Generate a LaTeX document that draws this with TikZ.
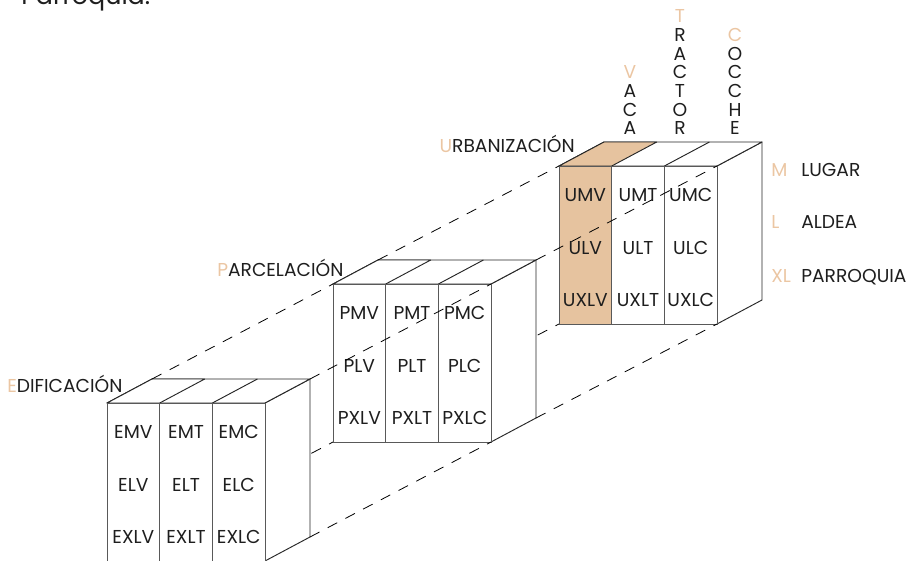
\documentclass[tikz,border=0pt]{standalone}
\usepackage{fontspec}
\setmainfont{Poppins}
\definecolor{sand}{HTML}{E6C39F}
\definecolor{sandtxt}{HTML}{EBC6A3}
\definecolor{ink}{HTML}{1E1E1E}

\begin{document}
\begin{tikzpicture}[x=0.75pt, y=-0.75pt,
    col/.style={draw=black!65, line width=0.7pt, minimum width=39.5pt, minimum height=118.5pt, inner sep=0pt, outer sep=0pt, anchor=north west},
    face/.style={draw=black!85, line width=0.7pt, fill=white, line join=round},
    cell/.style={font=\fontsize{14}{14}\selectfont, text=ink, inner sep=0pt, anchor=base},
    lbl/.style={font=\fontsize{14}{14}\selectfont, text=ink, inner sep=0pt, anchor=base west},
    key/.style={lbl, text=sandtxt},
    stack/.style={font=\fontsize{14}{14}\selectfont, text=ink, inner sep=0pt, align=center, anchor=south},
    link/.style={line width=0.6pt, dash pattern=on 8pt off 7pt}]
\useasboundingbox (0,0) rectangle (916,560);

% corners of the three blocks
\foreach \b/\x/\y in {E/107/403, P/333/284, U/559/166} {
    \coordinate (\b-ftl) at (\x,\y);
    \coordinate (\b-ftr) at (\x+158,\y);
    \coordinate (\b-fbr) at (\x+158,\y+158);
    \coordinate (\b-fbl) at (\x,\y+158);
    \coordinate (\b-btl) at (\x+45,\y-24);
    \coordinate (\b-btr) at (\x+203,\y-24);
    \coordinate (\b-bbr) at (\x+203,\y+134);
    \coordinate (\b-bbl) at (\x+45,\y+134);
}

% hidden links (behind the blocks)
\draw[link] (E-bbl) -- (P-fbl);
\draw[link] (P-bbl) -- (U-fbl);

% blocks
\foreach \b/\x/\y/\first in {E/107/403/white, P/333/284/white, U/559/166/sand} {
    \draw[face] (\b-ftr) -- (\b-btr) -- (\b-bbr) -- (\b-fbr) -- cycle;
    \draw[face] (\b-ftl) -- (\b-ftr) -- (\b-btr) -- (\b-btl) -- cycle;
    \draw[face, fill=\first] (\b-ftl) -- (\x+52.7,\y) -- (\x+97.7,\y-24) -- (\b-btl) -- cycle;
    \draw[face] (\x+105.4,\y) -- (\x+150.4,\y-24);
    \node[col, fill=\first] (\b-V) at (\x,\y) {};
    \node[col, fill=white] (\b-T) at (\x+52.7,\y) {};
    \node[col, fill=white] (\b-C) at (\x+105.4,\y) {};
    \foreach \r/\dy in {M/35, L/88, XL/140}
        \foreach \c [count=\k] in {V,T,C}
            \node[cell] (\b\r\c) at (\x+26.35+52.7*\k-52.7, \y+\dy) {\b\r\c};
}

% links between blocks
\draw[link] (E-btl) -- (P-ftl);
\draw[link] (E-btr) -- (P-ftr);
\draw[link] (E-bbr) -- (P-fbr);
\draw[link] (P-btl) -- (U-ftl);
\draw[link] (P-btr) -- (U-ftr);
\draw[link] (P-bbr) -- (U-fbr);

% block names
\node[lbl] (edif) at (7,392) {\textcolor{sandtxt}{E}DIFICACIÓN};
\node[lbl] (parc) at (217,276) {\textcolor{sandtxt}{P}ARCELACIÓN};
\node[lbl, anchor=base east] (urb) at (575,152) {\textcolor{sandtxt}{U}RBANIZACIÓN};

% column heads
\node[stack] (vaca) at (630,135) {\textcolor{sandtxt}{V}\\A\\C\\A};
\node[stack] (tractor) at (680,135) {\textcolor{sandtxt}{T}\\R\\A\\C\\T\\O\\R};
\node[stack] (cocche) at (735,135) {\textcolor{sandtxt}{C}\\O\\C\\C\\H\\E};

% row keys
\node[key] (m) at (771,176) {M};
\node[lbl] (lugar) at (801,176) {LUGAR};
\node[key] (l) at (771,228) {L};
\node[lbl] (aldea) at (801,228) {ALDEA};
\node[key] (xl) at (771,282) {XL};
\node[lbl] (parroquia) at (801,282) {PARROQUIA};

% cut title
\node[lbl, font=\fontsize{19}{19}\selectfont] (titulo) at (21,5) {Parroquia.};
\end{tikzpicture}
\end{document}
